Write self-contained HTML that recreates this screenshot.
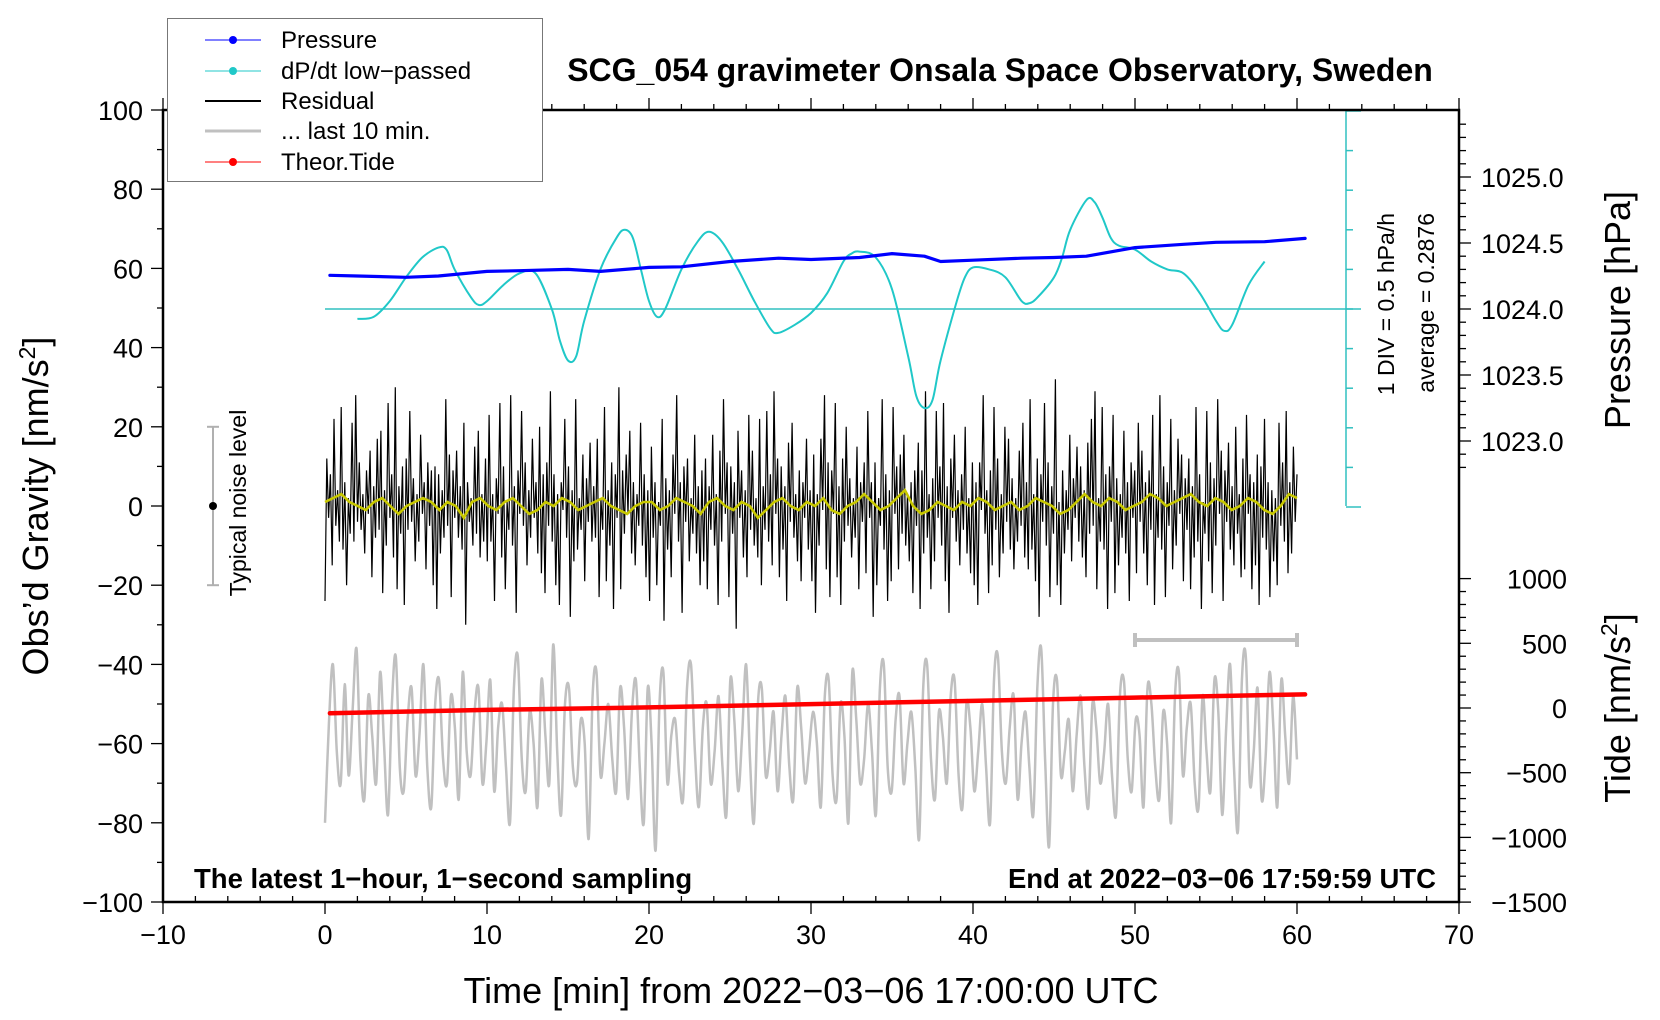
<!DOCTYPE html>
<html><head><meta charset="utf-8">
<style>
html,body{margin:0;padding:0;background:#fff;}
svg{display:block;font-family:"Liberation Sans",sans-serif;}
</style></head>
<body>
<svg id="chart" width="1660" height="1020" viewBox="0 0 1660 1020"></svg>
<script>
// ---- data ----
const pressureTimes = [0.3,2,5,7,10,12,15,17,20,22,25,28,30,33,35,37,38,40,43,45,47,50,53,55,58,60.5];
const pressureHpa = [1024.255,1024.25,1024.24,1024.25,1024.285,1024.29,1024.30,1024.285,1024.315,1024.32,1024.36,1024.385,1024.375,1024.39,1024.42,1024.40,1024.36,1024.37,1024.385,1024.39,1024.40,1024.465,1024.49,1024.505,1024.51,1024.535];
const dpdtTimes = [2,3,4,5,6,7,7.5,8,9,9.5,10,11,12,13,14,14.5,15,15.5,16,17,18,18.5,19,19.5,20,20.5,21,22,23,23.7,24.5,25.5,26.5,27.5,28,29,30,31,32,32.5,33,34,35,36,36.5,37,37.5,38,39,39.5,40,41,42,43,43.5,44,45,45.5,46,47,47.5,48,48.5,49,50,51,52,53,54,55,55.5,56,57,58];
const dpdtDiv = [-0.25,-0.2,0.2,0.8,1.3,1.55,1.5,1.0,0.3,0.1,0.2,0.6,0.9,0.9,0.0,-0.8,-1.3,-1.2,-0.3,1.0,1.8,2.0,1.8,1.0,0.2,-0.2,0.0,1.0,1.7,1.95,1.7,1.0,0.2,-0.5,-0.6,-0.4,-0.1,0.4,1.2,1.4,1.45,1.3,0.5,-1.2,-2.2,-2.5,-2.3,-1.3,0.2,0.8,1.05,1.0,0.8,0.2,0.15,0.3,0.8,1.3,2.0,2.75,2.7,2.3,1.8,1.6,1.5,1.2,1.0,0.9,0.4,-0.3,-0.55,-0.4,0.6,1.2];
const residual = [
-24,12,-3,8,-15,22,-5,4,-9,25,-11,6,-20,2,-7,21,-9,28,-4,11,-6,3,-12,9,-2,14,-18,5,-8,17,
-6,19,-22,4,-10,26,-3,8,-13,30,-21,5,-7,10,-25,12,-6,24,-4,7,-14,3,-9,18,-2,6,-16,11,-5,9,
-20,10,-26,8,-12,4,-8,27,-5,13,-23,9,-3,14,-8,5,-11,21,-30,6,-4,2,-10,15,-7,19,-13,3,-9,12,
-14,23,-9,3,-24,7,-2,26,-13,10,-21,1,-6,28,-10,5,-27,9,-2,24,-5,11,-15,4,-8,17,-3,6,-12,20,
-17,8,-22,11,-5,29,-9,8,-20,3,-25,6,-1,22,-8,10,-28,4,-14,27,-11,2,-6,13,-19,7,-4,16,-9,5,
-8,17,-23,2,-6,25,-19,4,-10,11,-26,8,-3,30,-21,9,-7,13,-2,19,-12,6,-15,3,-5,21,-10,8,-18,4,
-24,15,-8,6,-20,1,-5,22,-29,7,-11,4,-18,13,-2,28,-9,6,-27,10,-4,12,-14,2,-7,18,-12,5,-20,9,
-14,12,-21,5,-6,18,-10,3,-25,14,-9,27,-2,11,-23,10,-7,6,-31,19,-3,9,-13,4,-18,23,-6,14,-10,2,
-13,22,-20,5,-6,24,-9,8,-15,29,-2,12,-18,10,-11,5,-24,16,-4,21,-8,3,-14,9,-19,6,-3,17,-11,4,
-19,13,-27,3,-10,17,-1,28,-16,11,-23,9,-2,26,-18,5,-25,12,-9,20,-5,7,-13,2,-8,15,-21,6,-4,11,
-17,24,-3,6,-28,11,-20,2,-5,27,-11,8,-24,4,-19,25,-2,10,-16,13,-7,18,-10,3,-14,6,-22,9,-5,16,
-26,9,-12,29,-8,3,-21,7,-14,24,-3,10,-10,26,-19,5,-27,12,-3,18,-9,4,-15,8,-6,20,-12,2,-17,11,
-20,6,-25,11,-1,28,-7,4,-22,9,-15,25,-6,12,-18,3,-12,20,-4,17,-11,7,-16,2,-9,14,-5,21,-13,6,
-16,27,-11,3,-19,12,-28,8,-4,26,-10,11,-23,5,-7,32,-20,1,-25,9,-12,4,-6,18,-14,7,-3,15,-9,10,
-13,4,-18,16,-7,22,-5,29,-21,2,-9,25,-11,8,-26,10,-4,23,-22,7,-15,3,-8,19,-12,6,-24,11,-3,9,
-17,21,-4,14,-12,6,-20,9,-6,23,-25,3,-8,28,-11,10,-23,6,-5,22,-16,4,-10,17,-2,13,-19,7,-6,12,
-21,5,-13,25,-9,8,-26,1,-7,24,-14,11,-22,7,-10,27,-2,14,-24,9,-4,16,-11,5,-15,20,-7,3,-18,12,
-16,23,-2,8,-21,6,-15,13,-25,10,-8,22,-11,6,-23,4,-14,2,-20,21,-5,11,-9,24,-17,6,-12,15,-4,8
];
const smoothed = [1,2,3,1,0,-1,1,2,0,-2,0,1,2,1,-1,1,0,-3,1,2,
0,-1,1,2,0,-2,-1,1,0,2,1,-1,0,1,2,0,-1,-2,0,1,
1,-1,0,2,1,0,-2,1,2,0,-1,1,0,-3,-1,1,2,0,-1,1,
0,2,-1,-2,0,1,3,1,-1,0,2,4,0,-2,-1,1,0,-1,1,0,
2,1,-1,0,1,-1,0,2,1,0,-2,-1,1,3,1,0,2,1,-1,0,
1,3,2,0,1,2,3,1,0,2,1,-1,0,2,1,-1,-2,0,3,2];
const lastTen = [
-80,-55,-40,-62,-70,-45,-68,-52,-36,-64,-74,-48,-58,-70,-42,-60,-78,-50,-38,-66,
-72,-54,-46,-68,-58,-40,-66,-76,-50,-44,-64,-70,-48,-56,-74,-42,-62,-68,-52,-46,
-70,-60,-44,-72,-56,-50,-66,-80,-46,-38,-64,-72,-52,-60,-76,-44,-58,-70,-35,-62,
-78,-50,-46,-66,-70,-54,-60,-84,-48,-42,-68,-60,-50,-64,-72,-46,-56,-74,-52,-44,
-66,-80,-46,-60,-87,-50,-42,-70,-58,-54,-68,-74,-46,-40,-62,-76,-56,-50,-70,-62,
-48,-66,-78,-44,-54,-72,-58,-40,-64,-80,-50,-46,-68,-62,-52,-72,-58,-48,-66,-74,
-46,-56,-70,-62,-52,-60,-76,-48,-44,-68,-74,-50,-58,-80,-42,-54,-70,-64,-50,-62,
-78,-46,-40,-66,-72,-54,-48,-70,-60,-52,-66,-84,-46,-40,-64,-74,-52,-58,-70,-48,
-44,-68,-76,-50,-56,-72,-62,-50,-66,-80,-44,-38,-62,-70,-56,-48,-74,-60,-52,-66,
-78,-46,-36,-64,-86,-50,-44,-68,-62,-54,-72,-58,-48,-66,-76,-50,-56,-70,-62,-50,
-68,-78,-48,-44,-64,-72,-54,-58,-76,-46,-50,-66,-74,-52,-60,-80,-48,-42,-68,-56,
-50,-70,-76,-48,-62,-72,-44,-52,-78,-56,-40,-66,-82,-44,-38,-70,-62,-46,-74,-64,
-42,-56,-76,-44,-58,-70,-48,-64];
const tideTimes = [0.3,10,20,30,40,50,60.5];
const tideValues = [-40,-15,5,30,55,80,105];
const xTicks = [-10,0,10,20,30,40,50,60,70];
const yTicks = [100,80,60,40,20,0,-20,-40,-60,-80,-100];
const pTicks = [1025.0,1024.5,1024.0,1023.5,1023.0];
const tideTicks = [1000,500,0,-500,-1000,-1500];

// ---- geometry ----
const L=163,R=1459,T=110,B=902;
const xs = t => L + (t+10)/80*(R-L);
const ys = g => B - (g+100)/200*(B-T);
const yp = p => 309 - (p-1024)*132;
const yd = d => 309 - d*39.6;
const yt = v => 708 - v*0.1294;
const NS="http://www.w3.org/2000/svg";
const svg=document.getElementById('chart');
function mk(tag,attrs,parent){const e=document.createElementNS(NS,tag);for(const k in attrs)e.setAttribute(k,attrs[k]);(parent||svg).appendChild(e);return e;}
function txt(s,attrs,parent){const e=mk('text',attrs,parent);e.textContent=s;return e;}
const fmt = v => (v<0?'\u2212':'')+Math.abs(v);
function smoothPath(pts){let d='M'+pts[0][0].toFixed(1)+','+pts[0][1].toFixed(1);
  for(let i=0;i<pts.length-1;i++){const p0=pts[i-1]||pts[i],p1=pts[i],p2=pts[i+1],p3=pts[i+2]||p2;
    const c1x=p1[0]+(p2[0]-p0[0])/6,c1y=p1[1]+(p2[1]-p0[1])/6,c2x=p2[0]-(p3[0]-p1[0])/6,c2y=p2[1]-(p3[1]-p1[1])/6;
    d+='C'+c1x.toFixed(1)+','+c1y.toFixed(1)+' '+c2x.toFixed(1)+','+c2y.toFixed(1)+' '+p2[0].toFixed(1)+','+p2[1].toFixed(1);}
  return d;}

const gSeries=mk('g',{});



// grey last 10 min
const greyPts=lastTen.map((v,i)=>[xs(i/(lastTen.length-1)*60),ys(v)]);
const greyLine=mk('path',{d:smoothPath(greyPts),fill:'none',stroke:'#c0c0c0','stroke-width':2.5,'stroke-linejoin':'round'},gSeries);



// black residual
let d='';
residual.forEach((v,i)=>{const t=i/(residual.length-1)*60;d+=(i?'L':'M')+xs(t).toFixed(1)+','+ys(v).toFixed(1);});
const resLine=mk('path',{d:d,fill:'none',stroke:'#000','stroke-width':1.2},gSeries);



// yellow smoothed
d='';
smoothed.forEach((v,i)=>{const t=i/(smoothed.length-1)*60;d+=(i?'L':'M')+xs(t).toFixed(1)+','+ys(v).toFixed(1);});
const smLine=mk('path',{d:d,fill:'none',stroke:'#c8c800','stroke-width':2.6},gSeries);



// red tide
d='';
tideTimes.forEach((t,i)=>{d+=(i?'L':'M')+xs(t).toFixed(1)+','+yt(tideValues[i]).toFixed(1);});
const tideLine=mk('path',{d:d,fill:'none',stroke:'#ff0000','stroke-width':4.5,'stroke-linecap':'round'},gSeries);



// cyan dP/dt axis and baseline
const cy=mk('g',{stroke:'#30c0c0','stroke-width':1.5},gSeries);


mk('line',{x1:xs(0),y1:309,x2:1361,y2:309},cy);
mk('line',{x1:1346,y1:T,x2:1346,y2:ys(0)},cy);
for(let k=-5;k<=5;k++){mk('line',{x1:1346,y1:309-k*39.6,x2:(k===5||k===-5)?1361:1353,y2:309-k*39.6},cy);}

// cyan dP/dt curve
const dpPts=dpdtTimes.map((t,i)=>[xs(t),yd(dpdtDiv[i])]);
const dpLine=mk('path',{d:smoothPath(dpPts),fill:'none',stroke:'#20c8c8','stroke-width':2,'stroke-linejoin':'round'},gSeries);



// blue pressure
d='';
pressureTimes.forEach((t,i)=>{d+=(i?'L':'M')+xs(t).toFixed(1)+','+yp(pressureHpa[i]).toFixed(1);});
const pLine=mk('path',{d:d,fill:'none',stroke:'#0000ff','stroke-width':3.2,'stroke-linecap':'round','stroke-linejoin':'round'},gSeries);



// 10-min scale bar
const sb=mk('g',{stroke:'#c0c0c0','stroke-width':4},gSeries);


mk('line',{x1:xs(50),y1:640,x2:xs(60),y2:640},sb);
mk('line',{x1:xs(50),y1:633,x2:xs(50),y2:647},sb);
mk('line',{x1:xs(60),y1:633,x2:xs(60),y2:647},sb);

// noise level bar
const nb=mk('g',{},gSeries);


mk('line',{x1:213,y1:ys(20),x2:213,y2:ys(-20),stroke:'#b0b0b0','stroke-width':2},nb);
mk('line',{x1:207,y1:ys(20),x2:219,y2:ys(20),stroke:'#b0b0b0','stroke-width':2},nb);
mk('line',{x1:207,y1:ys(-20),x2:219,y2:ys(-20),stroke:'#b0b0b0','stroke-width':2},nb);
mk('circle',{cx:213,cy:ys(0),r:4,fill:'#000'},nb);
const nt=txt('Typical noise level',{x:0,y:0,'font-size':23,'text-anchor':'middle',transform:'translate(246,'+(ys(0)-3)+') rotate(-90)'},nb);



// frame
const fr=mk('rect',{x:L,y:T,width:R-L,height:B-T,fill:'none',stroke:'#000','stroke-width':2.5});



// x ticks
const gx=mk('g',{stroke:'#000','stroke-width':1.3});


for(let t=-10;t<=70;t+=2){const X=xs(t);const maj=(t%10===0);
  mk('line',{x1:X,y1:B,x2:X,y2:maj?B+12:B-6},gx);mk('line',{x1:X,y1:T,x2:X,y2:maj?T-12:T-6},gx);}
xTicks.forEach(t=>{const e=txt(fmt(t),{x:xs(t),y:B+42,'font-size':27,'text-anchor':'middle',stroke:'none'},gx);
  });

// y ticks
const gy=mk('g',{stroke:'#000','stroke-width':1.3});


for(let g=-100;g<=100;g+=10){const Y=ys(g);mk('line',{x1:L,y1:Y,x2:L-(g%20===0?12:6),y2:Y},gy);}
yTicks.forEach(g=>{const e=txt(fmt(g),{x:L-20,y:ys(g)+10,'font-size':27,'text-anchor':'end',stroke:'none'},gy);
  });

// pressure axis ticks
const gp=mk('g',{stroke:'#000','stroke-width':1.3});


for(let k=0;k<=26;k++){const p=1022.8+k*0.1;const Y=yp(p);if(Y<T||Y>ys(0))continue;
  const maj=Math.abs(Math.round(p*10)%5)===0;mk('line',{x1:R,y1:Y,x2:R+(maj?12:7),y2:Y},gp);}
pTicks.forEach(p=>{const e=txt(p.toFixed(1),{x:R+22,y:yp(p)+10,'font-size':27,stroke:'none'},gp);
  });

// tide axis ticks
const gtd=mk('g',{stroke:'#000','stroke-width':1.3});


for(let v=-1500;v<=1000;v+=100){const Y=yt(v);mk('line',{x1:R,y1:Y,x2:R+(v%500===0?12:7),y2:Y},gtd);}
tideTicks.forEach(v=>{const e=txt(fmt(v),{x:1567,y:yt(v)+10,'font-size':27,'text-anchor':'end',stroke:'none'},gtd);
  });

svg.insertAdjacentHTML('beforeend',`
<text x="1000" y="81" font-size="32" font-weight="bold" text-anchor="middle">SCG_054 gravimeter Onsala Space Observatory, Sweden</text>
<text x="811" y="1003" font-size="36" text-anchor="middle">Time [min] from 2022−03−06 17:00:00 UTC</text>
<text transform="translate(48,506) rotate(-90)" font-size="36" text-anchor="middle">Obs’d Gravity [nm/s<tspan font-size="23" dy="-13">2</tspan><tspan dy="13">]</tspan></text>
<text transform="translate(1630,310) rotate(-90)" font-size="36" text-anchor="middle">Pressure [hPa]</text>
<text transform="translate(1630,708) rotate(-90)" font-size="36" text-anchor="middle">Tide [nm/s<tspan font-size="23" dy="-13">2</tspan><tspan dy="13">]</tspan></text>
<text transform="translate(1394,213) rotate(-90)" font-size="23" text-anchor="end">1 DIV = 0.5 hPa/h</text>
<text transform="translate(1434,213) rotate(-90)" font-size="23" text-anchor="end">average = 0.2876</text>
<text x="194" y="888" font-size="27.5" font-weight="bold">The latest 1−hour, 1−second sampling</text>
<text x="1436" y="888" font-size="27.5" font-weight="bold" text-anchor="end">End at 2022−03−06 17:59:59 UTC</text>
<g>
<rect x="167.5" y="18.5" width="375" height="163" fill="#fff" stroke="#777" stroke-width="1"/>
<g><line x1="205" y1="40" x2="261" y2="40" stroke="#0000ff" stroke-width="1"/><circle cx="233" cy="40" r="4" fill="#0000ff"/><text x="281" y="48" font-size="24">Pressure</text></g>
<g><line x1="205" y1="71" x2="261" y2="71" stroke="#20c8c8" stroke-width="1"/><circle cx="233" cy="71" r="4" fill="#20c8c8"/><text x="281" y="79" font-size="24">dP/dt low−passed</text></g>
<g><line x1="205" y1="101" x2="261" y2="101" stroke="#000" stroke-width="2"/><text x="281" y="109" font-size="24">Residual</text></g>
<g><line x1="205" y1="131" x2="261" y2="131" stroke="#c0c0c0" stroke-width="3"/><text x="281" y="139" font-size="24">... last 10 min.</text></g>
<g><line x1="205" y1="162" x2="261" y2="162" stroke="#ff0000" stroke-width="1"/><circle cx="233" cy="162" r="4" fill="#ff0000"/><text x="281" y="170" font-size="24">Theor.Tide</text></g>
</g>`);
</script>
</body></html>
